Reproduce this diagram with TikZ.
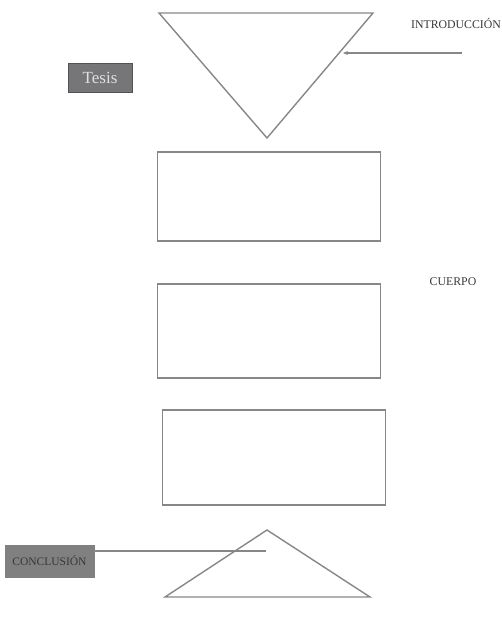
\documentclass[tikz,border=0pt]{standalone}
\usepackage{fontspec}
\setmainfont{Liberation Serif}
\usetikzlibrary{arrows.meta}
\definecolor{edgegray}{RGB}{135,135,135}
\definecolor{boxgray}{RGB}{118,118,120}
\definecolor{conclgray}{RGB}{128,128,128}
\definecolor{txtdark}{RGB}{55,55,55}
\tikzset{
  shapeline/.style={draw=edgegray, line width=1.4pt},
  connline/.style={draw=edgegray, line width=2pt},
  lbl/.style={font=\fontsize{11.8}{14}\selectfont, text=txtdark, inner sep=0pt},
  tagbox/.style={draw=boxgray!70!black, line width=0.8pt, inner sep=0pt, minimum width=64pt, minimum height=29pt},
}
\begin{document}
\begin{tikzpicture}[x=1pt, y=-1pt]
\useasboundingbox (0,0) rectangle (502,627);
% top triangle
\coordinate (t1) at (159,13);
\coordinate (t2) at (373,13);
\coordinate (t3) at (267,138);
\draw[shapeline, line join=miter] (t1) -- (t2) -- (t3) -- cycle;
% rectangles
\node[shapeline, minimum width=223pt, minimum height=89pt, inner sep=0pt] (r1) at (269,196.5) {};
\node[shapeline, minimum width=223pt, minimum height=94pt, inner sep=0pt] (r2) at (269,331) {};
\node[shapeline, minimum width=223pt, minimum height=95pt, inner sep=0pt] (r3) at (274,457.5) {};
% bottom triangle
\coordinate (b1) at (267,530);
\coordinate (b2) at (370,597);
\coordinate (b3) at (165,597);
\draw[shapeline, line join=miter] (b1) -- (b2) -- (b3) -- cycle;
% labels
\node[lbl] (intro) at (456,23) {INTRODUCCIÓN};
\node[lbl] (cuerpo) at (453,282) {CUERPO};
\node[tagbox, fill=boxgray, text=white!88!black, font=\fontsize{17}{20}\selectfont] (tesis) at (100,77.5) {Tesis};
\node[tagbox, fill=conclgray, draw=conclgray, minimum width=89pt, minimum height=32pt, font=\fontsize{11.5}{14}\selectfont, text=txtdark] (concl) at (49.5,561) {CONCLUSIÓN};
% connectors
\coordinate (arrstart) at (462,53);
\coordinate (arrend) at (343,53);
\draw[connline, -{Stealth[length=5pt,width=4pt]}] (arrstart) -- (arrend);
\coordinate (conclend) at (266,551);
\draw[connline] (concl.east |- conclend) -- (conclend);
\end{tikzpicture}
\end{document}
